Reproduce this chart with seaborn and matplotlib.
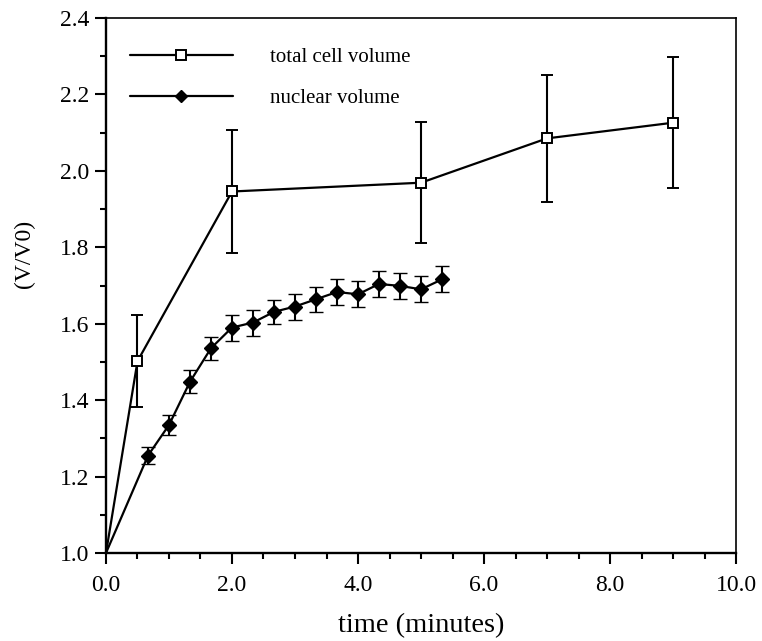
import matplotlib
matplotlib.use("Agg")
import matplotlib.pyplot as plt
import numpy as np
import pandas as pd
import seaborn as sns
from matplotlib import ticker
from matplotlib.lines import Line2D

# total cell volume (first point is the origin, drawn without a marker)
cell_time = [0.0, 0.5, 2.0, 5.0, 7.0, 9.0]
cell_vol = [1.0, 1.502, 1.946, 1.969, 2.085, 2.126]
cell_err = [0.0, 0.12, 0.16, 0.158, 0.166, 0.171]

# nuclear volume
nuc_time = [0.0, 0.667, 1.0, 1.333, 1.667, 2.0, 2.333, 2.667, 3.0, 3.333,
            3.667, 4.0, 4.333, 4.667, 5.0, 5.333]
nuc_vol = [1.0, 1.255, 1.335, 1.448, 1.536, 1.590, 1.603, 1.631, 1.645, 1.664,
           1.683, 1.677, 1.704, 1.699, 1.690, 1.716]
nuc_err = [0.0, 0.023, 0.025, 0.030, 0.030, 0.034, 0.034, 0.031, 0.034, 0.033,
           0.033, 0.034, 0.034, 0.034, 0.034, 0.034]

labels = ["total cell volume", "nuclear volume"]
x_ticks = [0, 2, 4, 6, 8, 10]
y_ticks = [1.0, 1.2, 1.4, 1.6, 1.8, 2.0, 2.2, 2.4]

sns.set_theme(style="ticks")
plt.rcParams["font.family"] = ["Liberation Serif", "DejaVu Serif"]
plt.rcParams["axes.edgecolor"] = "black"

cell = pd.DataFrame({"t": cell_time, "v": cell_vol, "e": cell_err})
nuc = pd.DataFrame({"t": nuc_time, "v": nuc_vol, "e": nuc_err})

fig = plt.figure(figsize=(7.62, 6.41), dpi=100)
ax = fig.add_axes([0.1391, 0.1373, 0.8268, 0.8346])

sns.lineplot(data=cell, x="t", y="v", color="black", lw=1.6, ax=ax,
             estimator=None, sort=False)
sns.lineplot(data=nuc, x="t", y="v", color="black", lw=1.6, ax=ax,
             estimator=None, sort=False)

# markers + error bars (skip the origin point)
c = cell.iloc[1:]
ax.errorbar(c["t"], c["v"], yerr=c["e"], fmt="s", color="black", mfc="white",
            mec="black", ms=7.5, mew=1.4, elinewidth=1.5, capsize=4.5,
            capthick=1.8, zorder=3)
n = nuc.iloc[1:]
ax.errorbar(n["t"], n["v"], yerr=n["e"], fmt="D", color="black", mfc="black",
            mec="black", ms=7, mew=1, elinewidth=1.5, capsize=4.7,
            capthick=1.8, zorder=3)

ax.set_xlim(0, 10)
ax.set_ylim(1.0, 2.4)
ax.set_xticks(x_ticks)
ax.set_xticklabels([f"{t:.1f}" for t in x_ticks])
ax.set_yticks(y_ticks)
ax.set_yticklabels([f"{t:.1f}" for t in y_ticks])
ax.xaxis.set_minor_locator(ticker.MultipleLocator(0.5))
ax.yaxis.set_minor_locator(ticker.MultipleLocator(0.1))
ax.tick_params(which="major", direction="out", length=8, width=1.5,
               labelsize=17, color="black", labelcolor="black", pad=4)
ax.tick_params(axis="x", which="major", pad=8)
ax.tick_params(which="minor", direction="out", length=4.5, width=1.5,
               color="black")
ax.tick_params(top=False, right=False, which="both")

for side in ["left", "bottom"]:
    ax.spines[side].set_linewidth(1.7)
for side in ["top", "right"]:
    ax.spines[side].set_linewidth(1.2)
    ax.spines[side].set_visible(True)

ax.set_xlabel("time (minutes)", fontsize=20.5, color="black", labelpad=12)
ax.set_ylabel("(V/V0)", fontsize=17, color="black")
ax.yaxis.set_label_coords(-0.113, 0.559)

handles = [
    Line2D([], [], color="black", lw=1.6, marker="s", mfc="white", mec="black",
           ms=6.5, mew=1.4),
    Line2D([], [], color="black", lw=1.6, marker="D", mfc="black", ms=6),
]
ax.legend(handles, labels, loc="upper left", bbox_to_anchor=(0.038, 0.945),
          frameon=False, fontsize=15, handlelength=4.95, handletextpad=1.75,
          labelspacing=1.05, borderpad=0, borderaxespad=0, numpoints=1,
          labelcolor="black")

fig.savefig("out.png", dpi=100)
